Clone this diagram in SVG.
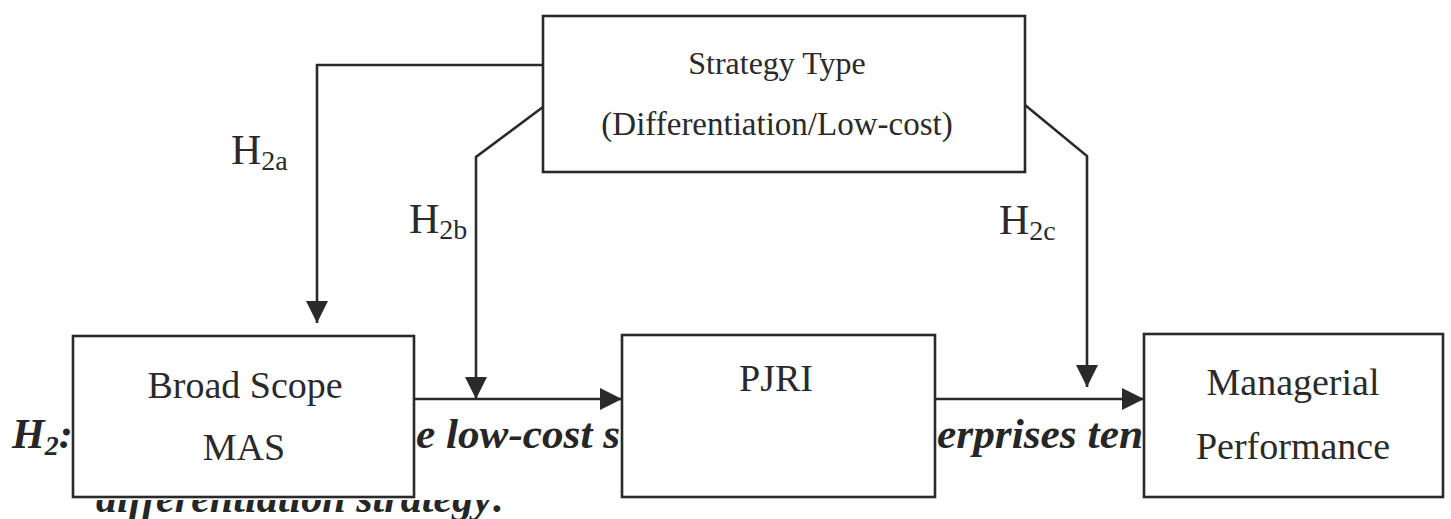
<svg xmlns="http://www.w3.org/2000/svg" width="1451" height="519" viewBox="0 0 1451 519">
  <style>
    .box { fill: #ffffff; stroke: #2a2a2a; stroke-width: 2.6; }
    .lbl { font-family: "Liberation Serif", "Times New Roman", serif; fill: #2a2a2a; text-anchor: middle; }
    .hyp { font-family: "Liberation Serif", "Times New Roman", serif; fill: #2a2a2a; font-size: 42px; }
    .hyp tspan.sub { font-size: 28px; }
    .bg { font-family: "Liberation Serif", "Times New Roman", serif; font-weight: bold; font-style: italic; font-size: 42px; fill: #262626; }
    .wire { fill: none; stroke: #2a2a2a; stroke-width: 2.6; }
  </style>
  <defs>
    <marker id="arrow" markerUnits="userSpaceOnUse" markerWidth="24" markerHeight="24" viewBox="0 0 24 24" refX="23" refY="12" orient="auto">
      <path d="M1,1 L23,12 L1,23 Z" fill="#2a2a2a"/>
    </marker>
    <clipPath id="lowerLine">
      <rect x="0" y="500" width="1451" height="19"/>
    </clipPath>
  </defs>

  <rect width="1451" height="519" fill="#ffffff"/>

  <!-- running text of the page behind the figure -->
  <g id="page-text">
    <text class="bg" x="12" y="448">H<tspan font-size="28" dy="7">2</tspan><tspan dy="-7">:</tspan></text>
    <text class="bg" x="416" y="448" textLength="204" lengthAdjust="spacingAndGlyphs">e low-cost s</text>
    <text class="bg" x="937" y="448" textLength="206" lengthAdjust="spacingAndGlyphs">erprises ten</text>
    <text class="bg" x="96" y="512" textLength="410" lengthAdjust="spacingAndGlyphs" clip-path="url(#lowerLine)">differentiation strategy:</text>
  </g>

  <!-- connectors -->
  <g id="connectors">
    <path class="wire" d="M543,65 H317 V323" marker-end="url(#arrow)"/>
    <path class="wire" d="M543,107 L476,157 V399" marker-end="url(#arrow)"/>
    <path class="wire" d="M1025,105 L1087,156 V387" marker-end="url(#arrow)"/>
    <path class="wire" d="M414,399 H622" marker-end="url(#arrow)"/>
    <path class="wire" d="M935,399 H1144" marker-end="url(#arrow)"/>
  </g>

  <!-- hypothesis labels -->
  <g id="labels">
    <text class="hyp" x="231" y="164">H<tspan class="sub" dy="6">2a</tspan></text>
    <text class="hyp" x="409" y="233">H<tspan class="sub" dy="6">2b</tspan></text>
    <text class="hyp" x="999" y="234">H<tspan class="sub" dy="6">2c</tspan></text>
  </g>

  <g id="strategy-type">
    <rect class="box" x="543" y="16" width="482" height="156"/>
    <text class="lbl" x="777" y="74" font-size="32">Strategy Type</text>
    <text class="lbl" x="777" y="135" font-size="33">(Differentiation/Low-cost)</text>
  </g>

  <g id="broad-scope-mas">
    <rect class="box" x="73" y="336" width="341" height="161"/>
    <text class="lbl" x="245" y="398" font-size="38">Broad Scope</text>
    <text class="lbl" x="244" y="460" font-size="38">MAS</text>
  </g>

  <g id="pjri">
    <rect class="box" x="622" y="335" width="313" height="162"/>
    <text class="lbl" x="776" y="391" font-size="38">PJRI</text>
  </g>

  <g id="managerial-performance">
    <rect class="box" x="1144" y="334" width="299" height="163"/>
    <text class="lbl" x="1293" y="395" font-size="38">Managerial</text>
    <text class="lbl" x="1293" y="459" font-size="38">Performance</text>
  </g>
</svg>
